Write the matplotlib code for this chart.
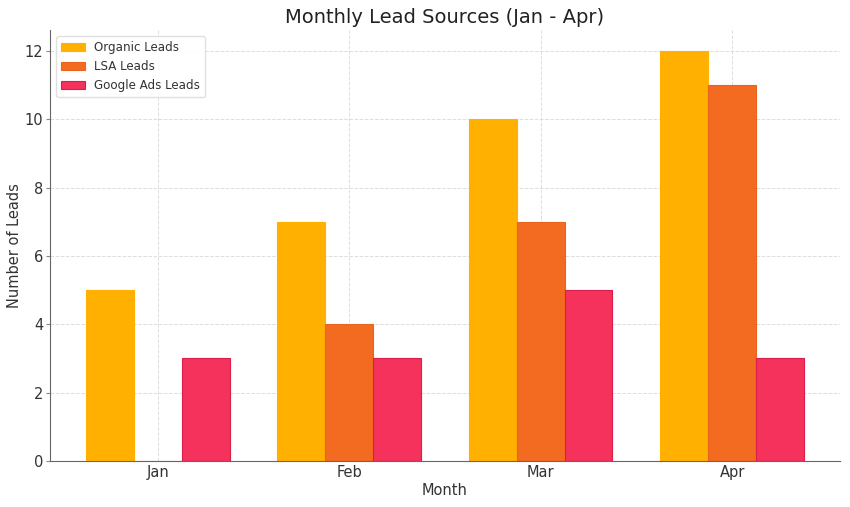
import numpy as np
import matplotlib
matplotlib.use("Agg")
import matplotlib.pyplot as plt

# ── data ──────────────────────────────────────────────────────────────────────
MONTHS   = ["Jan", "Feb", "Mar", "Apr"]
ORGANIC  = [5, 7, 10, 12]
LSA      = [0, 4, 7, 11]
GOOGLE   = [3, 3, 5, 3]

COLORS   = ["#FFB000", "#F26B21", "#F5325B"]
EDGES    = ["#FFB000", "#E8641F", "#D81E4A"]
LABELS   = ["Organic Leads", "LSA Leads", "Google Ads Leads"]
WIDTH    = 0.25
TXT      = "#333333"


def main():
    fig, ax = plt.subplots(figsize=(8.5, 5.07), dpi=100)
    x = np.arange(len(MONTHS))
    for i, (vals, c, e, lab) in enumerate(zip([ORGANIC, LSA, GOOGLE], COLORS, EDGES, LABELS)):
        ax.bar(x + (i - 1) * WIDTH, vals, WIDTH, color=c, edgecolor=e,
               linewidth=0.8, label=lab, zorder=2)

    ax.set_xticks(x)
    ax.set_xticklabels(MONTHS, fontsize=10.5)
    ax.tick_params(axis="y", labelsize=10.5, length=3, width=0.8, color="#888888", pad=2, labelcolor=TXT)
    ax.tick_params(axis="x", length=0, pad=3, labelcolor=TXT)
    ax.set_xlabel("Month", fontsize=10.5, color=TXT, labelpad=2)
    ax.set_ylabel("Number of Leads", fontsize=10.5, color=TXT, labelpad=2)
    ax.set_title("Monthly Lead Sources (Jan - Apr)", fontsize=14, color="#222222", pad=5)
    ax.grid(True, linestyle="--", color="#d5d5d5", alpha=0.8, linewidth=0.7, zorder=3)
    for s in ["top", "right"]:
        ax.spines[s].set_visible(False)
    for s in ["left", "bottom"]:
        ax.spines[s].set_color("#666666")
    leg = ax.legend(loc="upper left", fontsize=8.6, framealpha=0.9, edgecolor="#dddddd",
                    borderaxespad=0.5)
    for t in leg.get_texts():
        t.set_color(TXT)
    fig.subplots_adjust(left=0.059, right=0.988, top=0.94, bottom=0.091)
    plt.savefig("out.png", dpi=100)
    plt.close(fig)


if __name__ == "__main__":
    main()
